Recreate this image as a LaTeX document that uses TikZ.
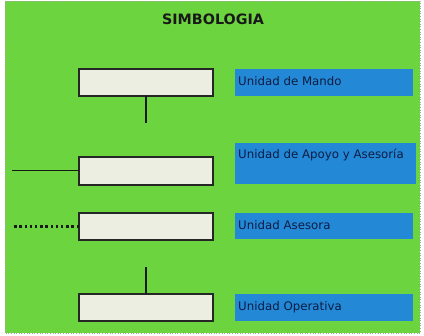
\documentclass[tikz,border=0pt]{standalone}
\usepackage{fontspec}
\setmainfont{DejaVu Sans}
\definecolor{bggreen}{HTML}{6CD43E}
\definecolor{lblue}{HTML}{2389D6}
\definecolor{navy}{HTML}{0E1C44}
\definecolor{boxfill}{HTML}{ECEEE2}
\tikzset{
  unitbox/.style={draw=black!85, line width=1.4pt, fill=boxfill},
  labelbox/.style={fill=lblue},
  labeltext/.style={anchor=west, inner sep=0pt, text=navy, font=\fontsize{11.8}{13}\selectfont},
  vline/.style={draw=black!90, line width=2pt},
}
\begin{document}
\begin{tikzpicture}[x=1pt,y=-1pt]
\useasboundingbox (0,0) rectangle (424,336);
\fill[white] (0,0) rectangle (424,336);
\fill[bggreen] (5,1) rectangle (420,333);
\draw[gray!70, dotted, line width=0.6pt] (5,1) rectangle (420,333);
\node[font=\bfseries\fontsize{14.3}{16}\selectfont, text=black!90] (title) at (213,19) {SIMBOLOGIA};
% boxes
\path[unitbox] (79,69) rectangle (213,96);
\coordinate (b1s) at (146,96);
\path[unitbox] (79,157) rectangle (213,185);
\coordinate (b2w) at (79,171);
\path[unitbox] (79,213) rectangle (213,240);
\coordinate (b3w) at (79,226.5);
\path[unitbox] (79,294) rectangle (213,321);
\coordinate (b4n) at (146,294);
% connectors
\coordinate (e1) at (146,123);
\draw[vline] (b1s) -- (e1);
\coordinate (e2) at (12,171);
\draw[black!90, line width=1pt] (b2w) -- (e2);
\coordinate (e3) at (14,226.5);
\draw[black!90, line width=2.4pt, dash pattern=on 2.4pt off 2.8pt] (b3w) -- (e3);
\coordinate (e4) at (146,267);
\draw[vline] (b4n) -- (e4);
% labels
\fill[labelbox] (235,69) rectangle (413,96);
\node[labeltext] (l1) at (238,81) {Unidad de Mando};
\fill[labelbox] (235,143) rectangle (416,184);
\node[labeltext] (l2) at (238,155) {Unidad de Apoyo y Asesoría};
\fill[labelbox] (235,213) rectangle (413,239);
\node[labeltext] (l3) at (238,225) {Unidad Asesora};
\fill[labelbox] (235,294) rectangle (413,321);
\node[labeltext] (l4) at (238,307) {Unidad Operativa};
\end{tikzpicture}
\end{document}
